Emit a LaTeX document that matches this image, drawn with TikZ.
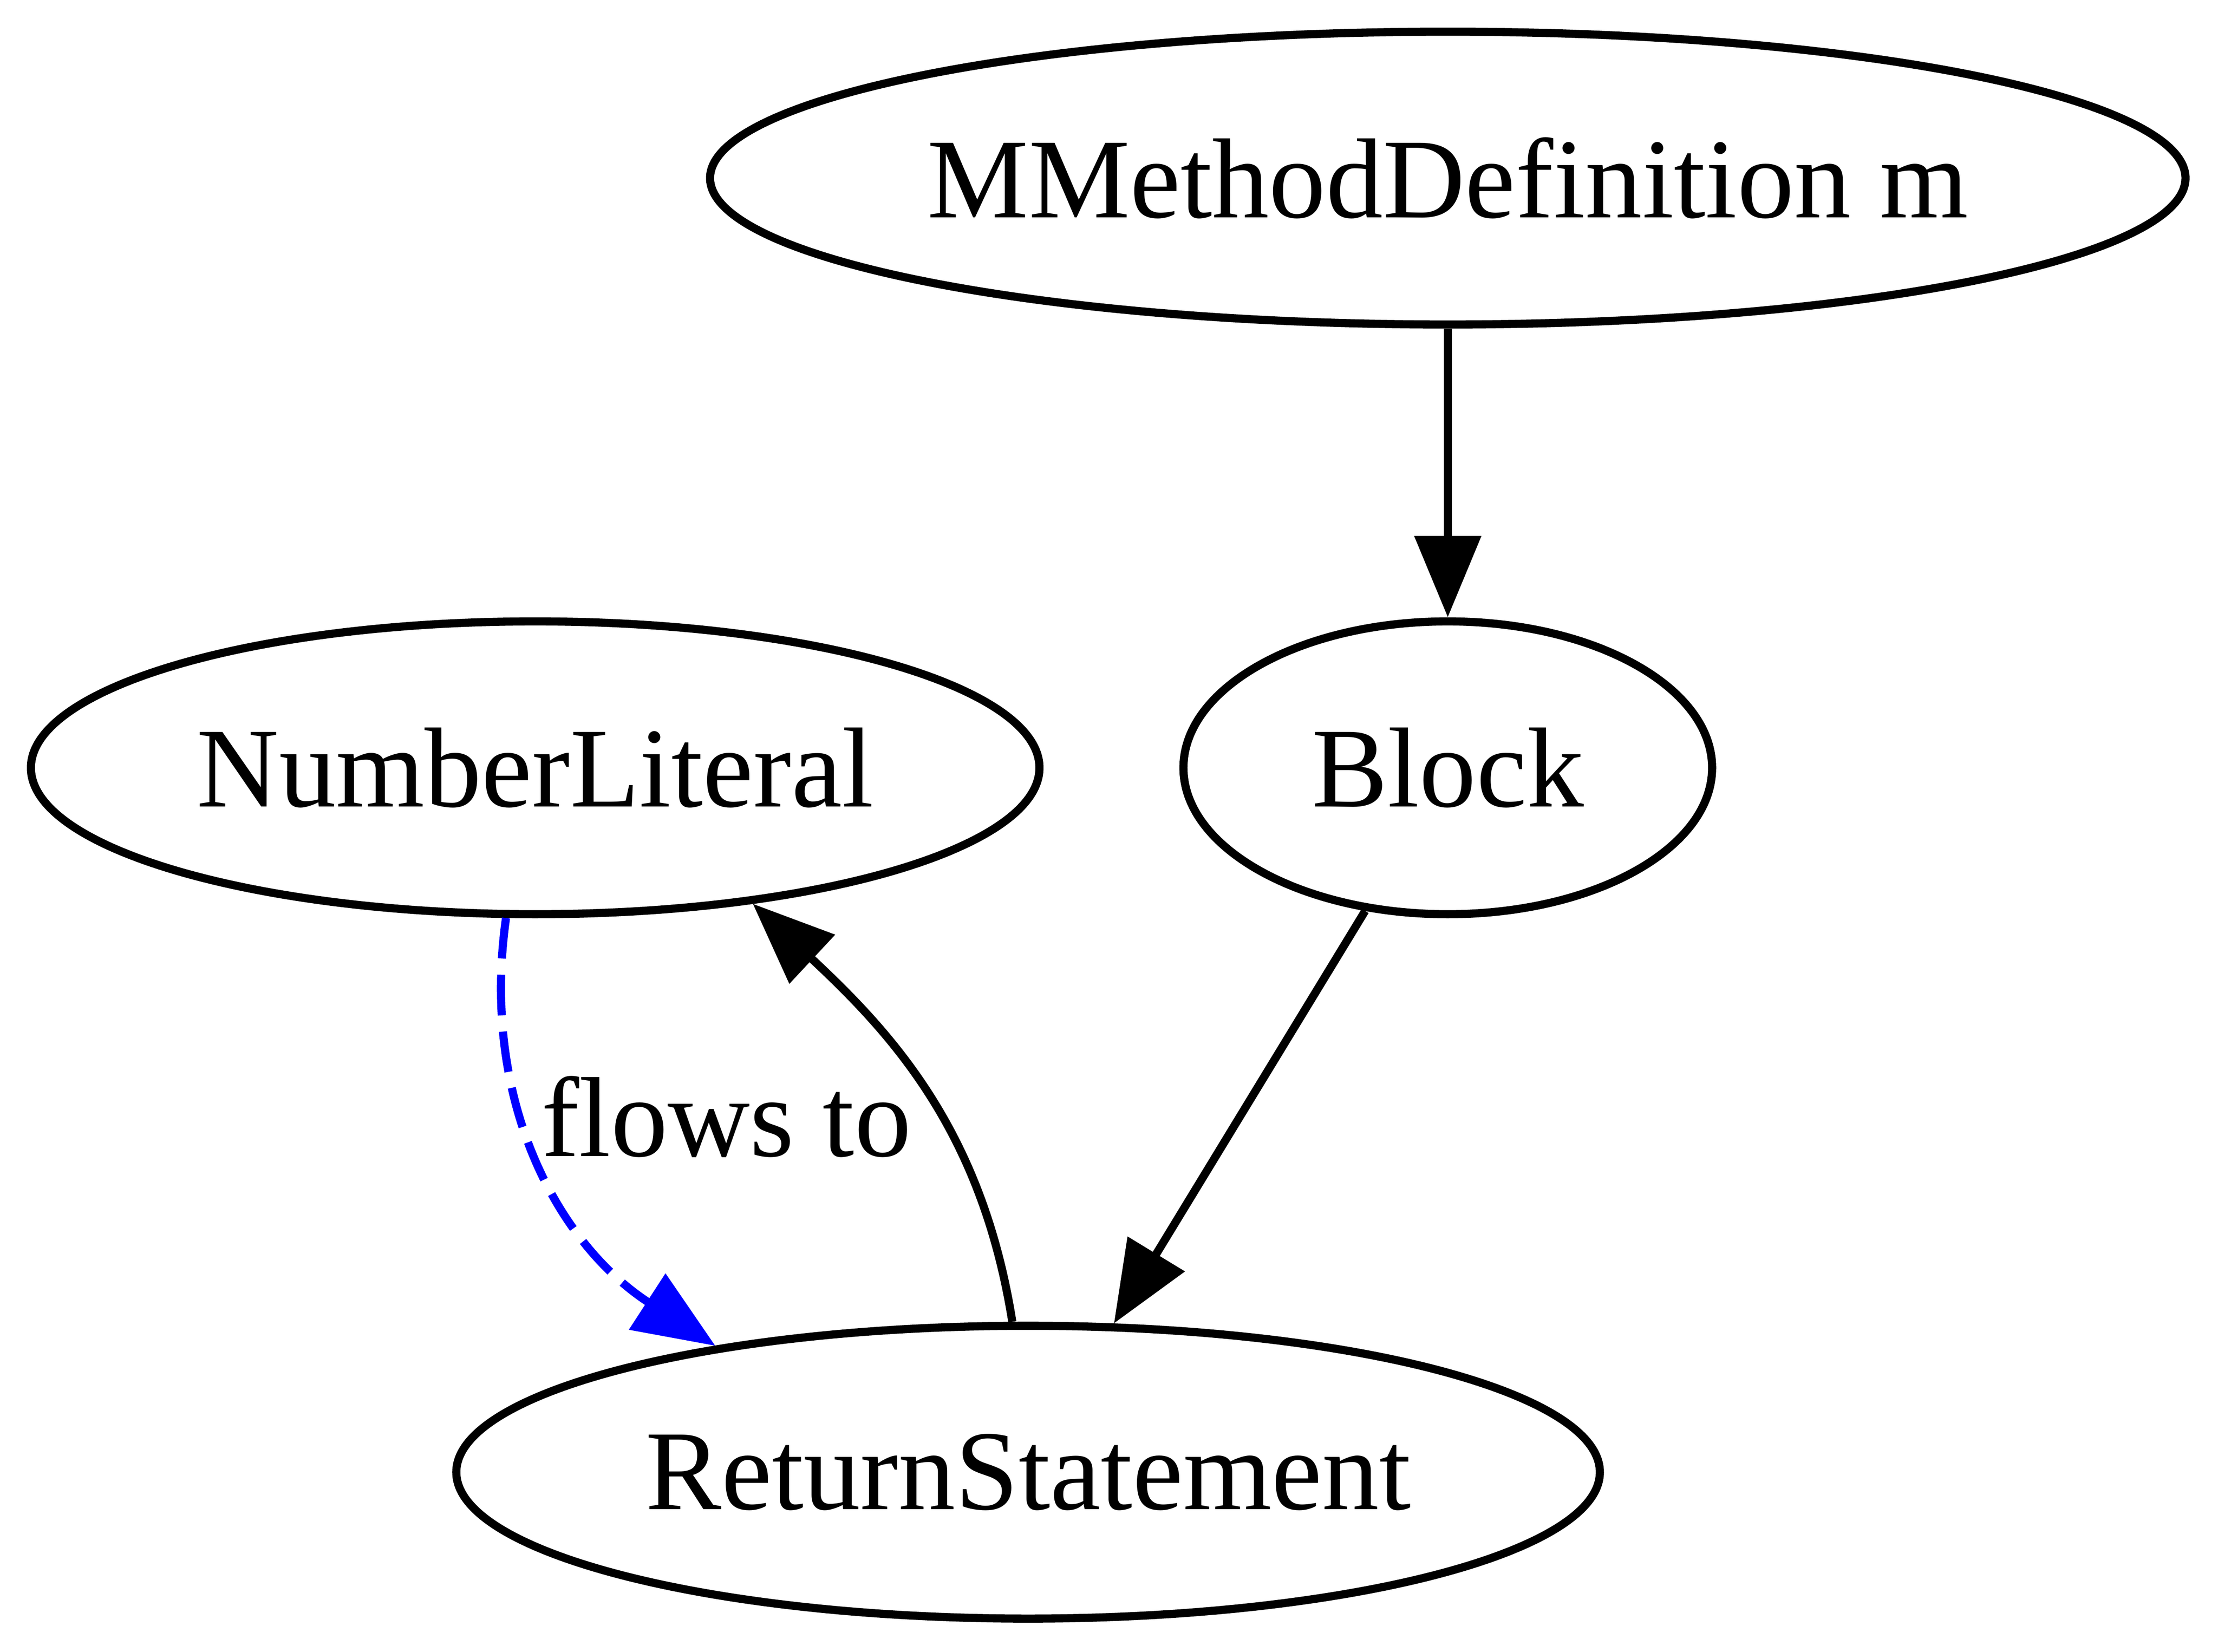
\documentclass[tikz,border=0pt]{standalone}
\usepackage{fontspec}
\setmainfont{Liberation Serif}
\usepackage{xcolor}
\usetikzlibrary{shapes.geometric,arrows.meta}
\definecolor{flow}{HTML}{0000FF}
\tikzset{ast/.style={black,draw=black,ellipse,line width=1pt,inner sep=0pt,minimum height=36pt,font=\fontsize{14pt}{16pt}\selectfont}}
\tikzset{lbl/.style={black,inner sep=0pt,font=\fontsize{14pt}{16pt}\selectfont}}
\tikzset{edge/.style={line width=1pt,-{Triangle[length=10pt,width=8pt]}}}
\tikzset{flowedge/.style={edge,draw=flow,dash pattern=on 5pt off 2pt}}

\begin{document}
\begin{tikzpicture}[x=1pt,y=1pt]
    \useasboundingbox (0,0) rectangle (272.7,203.1);

    \node[ast, minimum width=181.4pt] (mdef) at (178, 181.2) {MMethodDefinition m};
    \node[ast, minimum width=65pt] (block) at (178, 108.7) {Block};
    \node[ast, minimum width=124pt] (numlit) at (65.8, 108.7) {NumberLiteral};
    \node[ast, minimum width=140.6pt] (ret) at (126.4, 22.1) {ReturnStatement};
    \node[lbl] (flows) at (89.3, 65.8) {flows to};

    \draw[edge] (mdef) to (block);
    \draw[edge] (block.-120) to (ret.60);
    \draw[edge, out=99, in=317] (ret.96) to (numlit.-32);
    \draw[flowedge, out=262, in=147] (numlit.-101) to (ret.158);
\end{tikzpicture}
\end{document}
